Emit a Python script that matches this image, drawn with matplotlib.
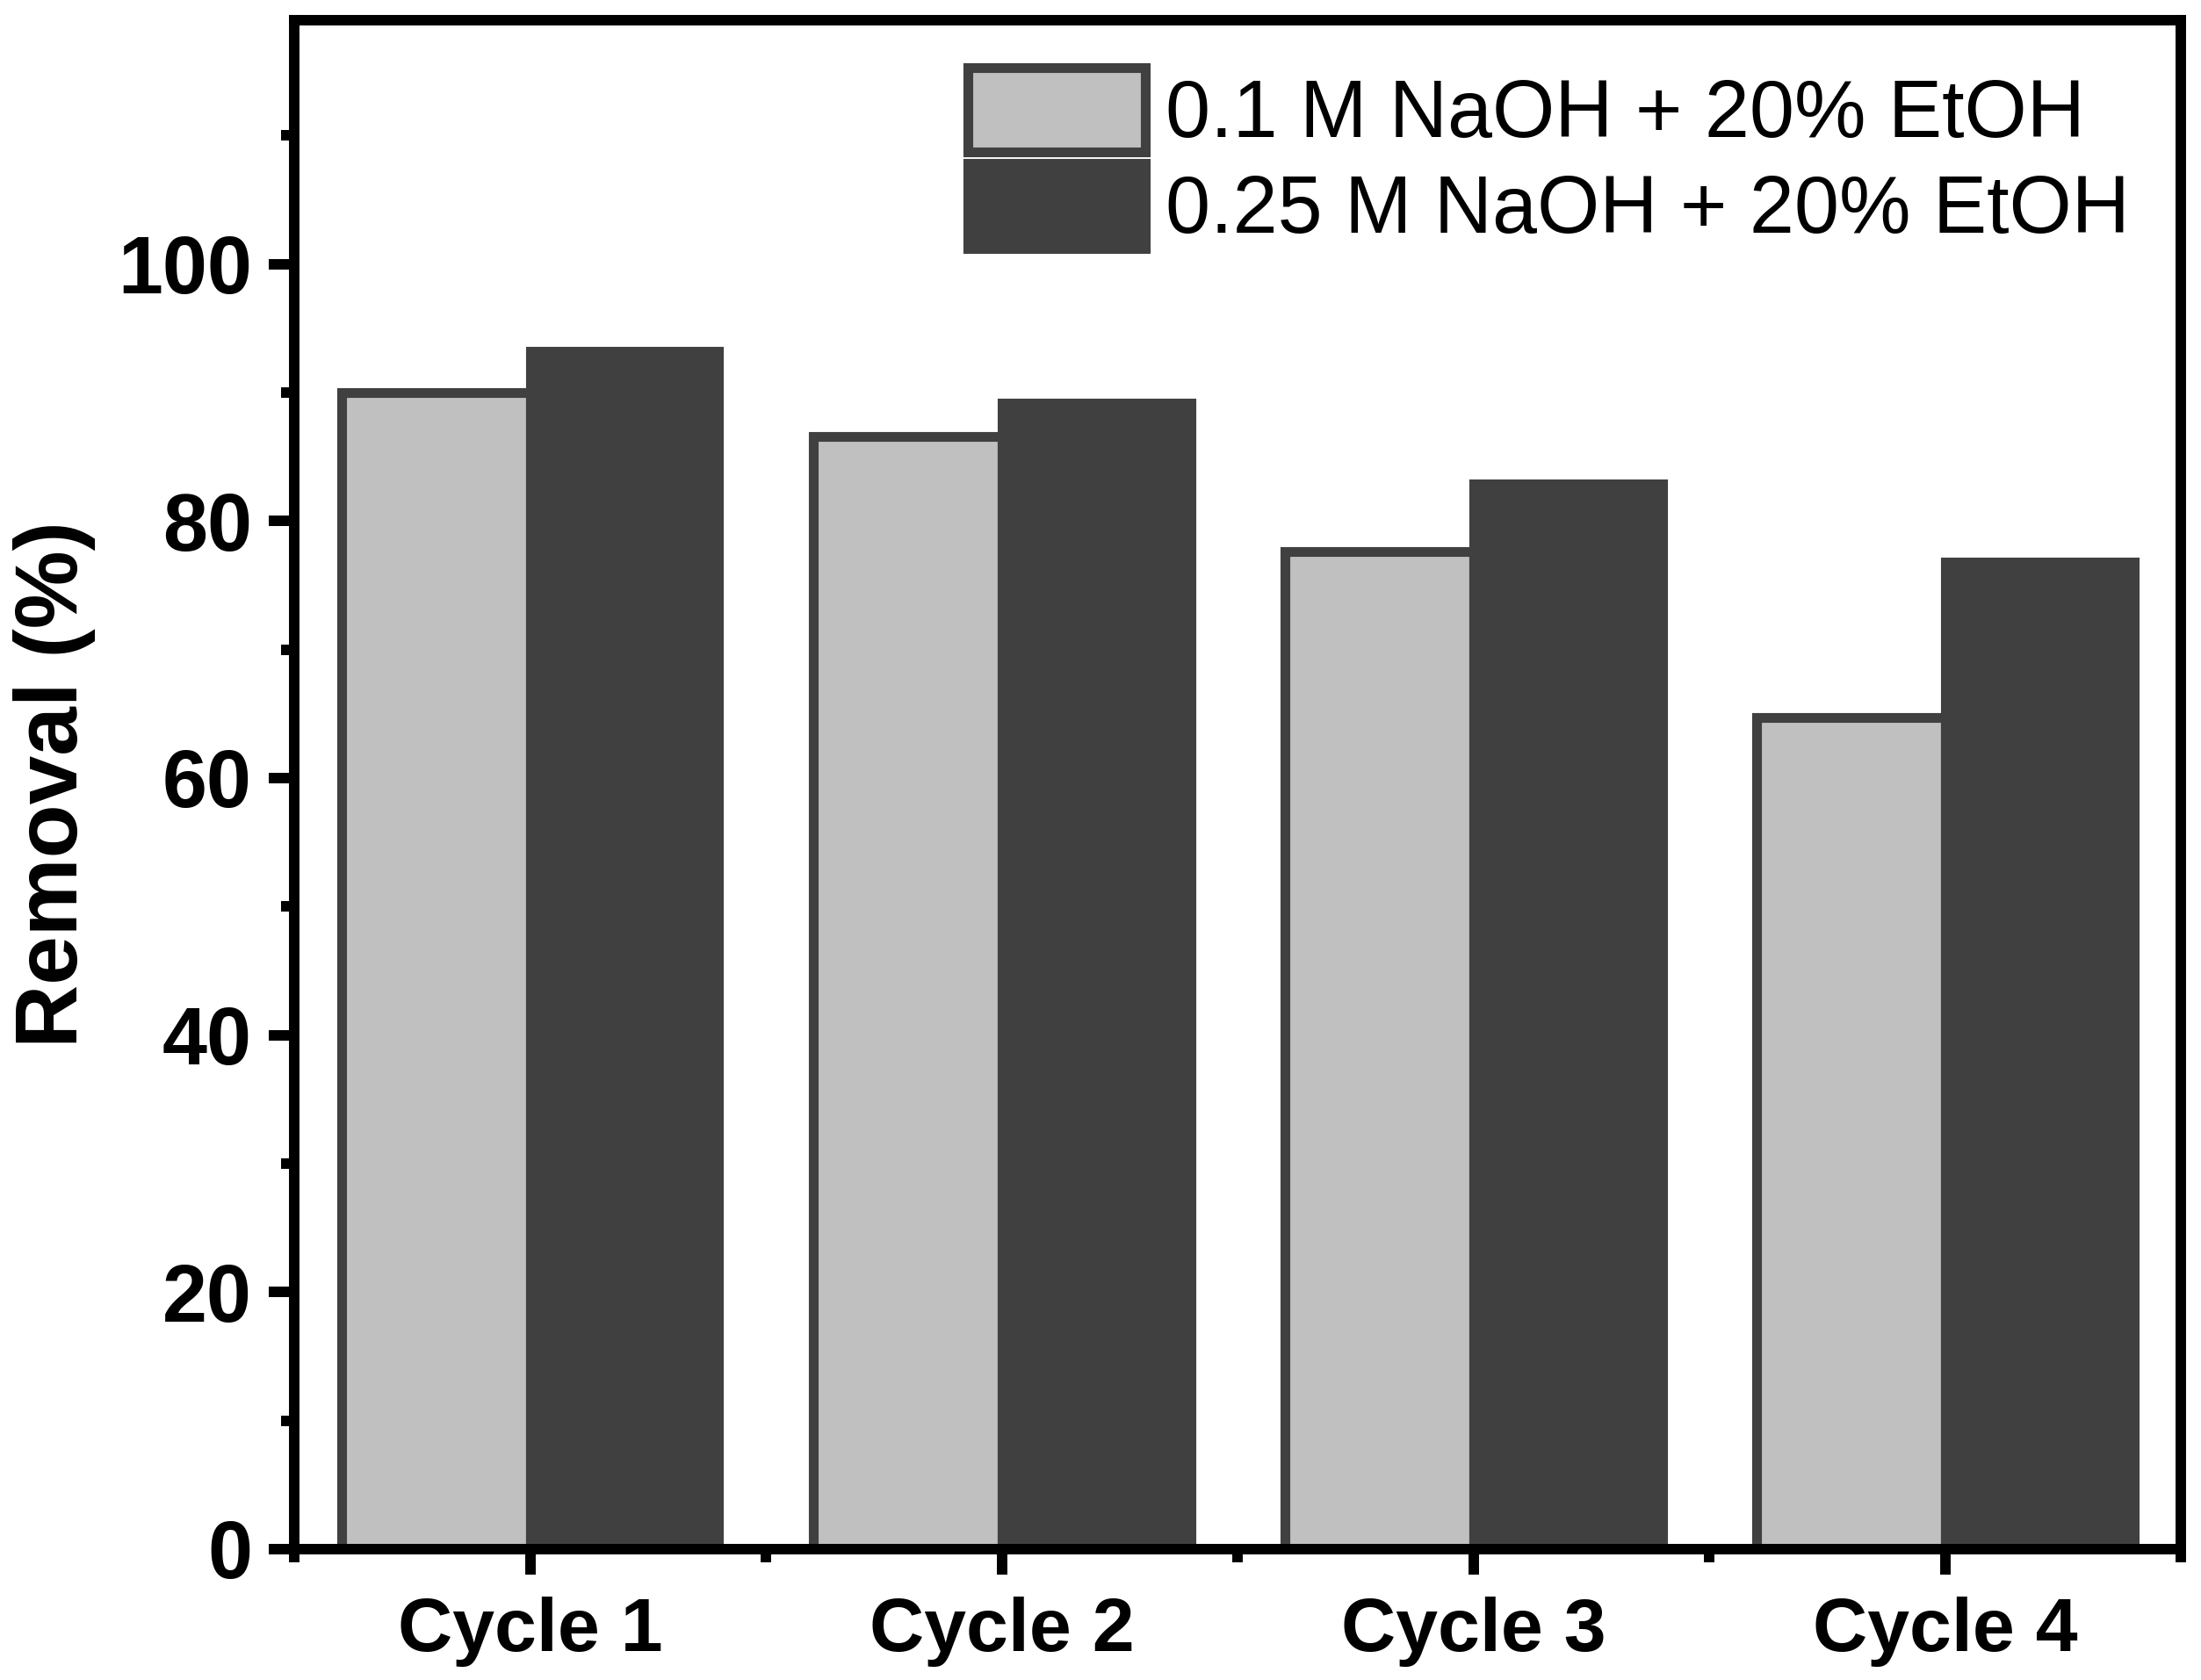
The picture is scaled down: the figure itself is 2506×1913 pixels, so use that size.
import numpy as np
import matplotlib.pyplot as plt
from matplotlib.ticker import MultipleLocator

cycles = ["Cycle 1", "Cycle 2", "Cycle 3", "Cycle 4"]
naoh_01 = [90.0, 86.6, 77.6, 64.7]
naoh_025 = [93.2, 89.2, 82.9, 76.8]
labels = ["0.1 M NaOH + 20% EtOH", "0.25 M NaOH + 20% EtOH"]

plt.rcParams["font.family"] = ["Liberation Sans", "DejaVu Sans"]

fig = plt.figure(figsize=(12.53, 9.565), dpi=200)
ax = fig.add_axes([0.1337, 0.0779, 0.991 - 0.1337, 0.9882 - 0.0779])

x = np.arange(1, len(cycles) + 1)
w = 0.4
edge = "#404040"
ax.bar(x - w / 2, naoh_01, w, color="#c0c0c0", edgecolor=edge, linewidth=4, label=labels[0])
ax.bar(x + w / 2, naoh_025, w, color="#404040", edgecolor=edge, linewidth=4, label=labels[1])

ax.set_xlim(0.5, 4.5)
ax.set_ylim(0, 119)
ax.set_xticks(x)
ax.set_xticklabels(cycles)
ax.xaxis.set_minor_locator(MultipleLocator(0.5))
ax.yaxis.set_major_locator(MultipleLocator(20))
ax.yaxis.set_minor_locator(MultipleLocator(10))

for s in ax.spines.values():
    s.set_linewidth(4.3)
    s.set_color("black")
ax.tick_params(which="major", direction="out", length=10.3, width=4.3, pad=7)
ax.tick_params(which="minor", direction="out", length=5.4, width=4.3)
ax.tick_params(axis="y", which="major", labelsize=33)
ax.tick_params(axis="x", which="major", labelsize=31, pad=9)
for t in ax.get_xticklabels() + ax.get_yticklabels():
    t.set_fontweight("bold")

ax.set_ylabel("Removal (%)", fontsize=36, fontweight="bold", labelpad=9)

ax.legend(loc="upper left", bbox_to_anchor=(0.357, 0.969), frameon=False,
          fontsize=33, borderpad=0, borderaxespad=0, handlelength=2.2,
          handleheight=1.25, labelspacing=0.12, handletextpad=0.25)

fig.savefig("out.png", dpi=200)
